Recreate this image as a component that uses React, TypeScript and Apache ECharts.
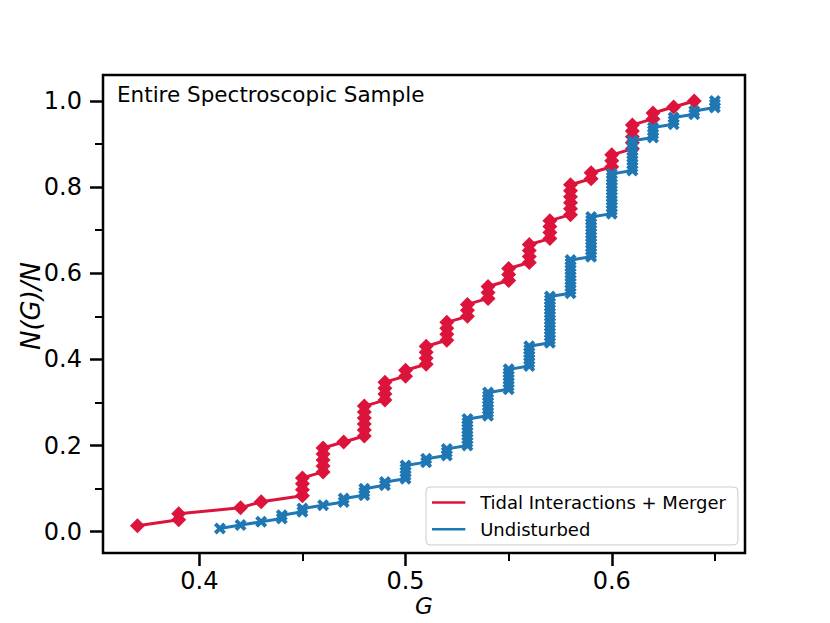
import React, { useEffect, useRef } from "react";
import * as echarts from "echarts";

// Distinct G values and number of galaxies at each value
const G_RED = [0.37, 0.39, 0.42, 0.43, 0.45, 0.46, 0.47, 0.48, 0.49, 0.5, 0.51, 0.52, 0.53, 0.54, 0.55, 0.56, 0.57, 0.58, 0.59, 0.6, 0.61, 0.62, 0.63, 0.64];
const COUNT_RED = [1, 2, 1, 1, 4, 5, 1, 6, 4, 2, 4, 4, 3, 3, 3, 4, 4, 6, 2, 3, 5, 2, 1, 1];

const G_BLUE = [0.41, 0.42, 0.43, 0.44, 0.45, 0.46, 0.47, 0.48, 0.49, 0.5, 0.51, 0.52, 0.53, 0.54, 0.55, 0.56, 0.57, 0.58, 0.59, 0.6, 0.61, 0.62, 0.63, 0.64, 0.65];
const COUNT_BLUE = [1, 1, 1, 2, 2, 1, 2, 3, 2, 5, 2, 3, 9, 8, 7, 7, 15, 11, 13, 13, 10, 4, 3, 2, 3];

const SERIES_NAMES = ["Tidal Interactions + Merger", "Undisturbed"];
const X_MAJOR = [0.4, 0.5, 0.6];
const X_MINOR = [0.45, 0.55, 0.65];
const Y_MAJOR = [0.0, 0.2, 0.4, 0.6, 0.8, 1.0];
const Y_MINOR = [0.1, 0.3, 0.5, 0.7, 0.9];
const ANNOTATION = "Entire Spectroscopic Sample";
const X_TITLE = "G";
const Y_TITLE = "N(G)/N";

function cumulative(gs: number[], counts: number[]): number[][] {
  const total = counts.reduce((a, b) => a + b, 0);
  const pts: number[][] = [];
  let c = 0;
  gs.forEach((g, i) => {
    for (let k = 0; k < counts[i]; k++) {
      c += 1;
      pts.push([g, c / total]);
    }
  });
  return pts;
}

const FONT = "DejaVu Sans";
const X_SYMBOL = "path://M2.3,0 L5,2.7 L7.7,0 L10,2.3 L7.3,5 L10,7.7 L7.7,10 L5,7.3 L2.3,10 L0,7.7 L2.7,5 L0,2.3 Z";

export default function App() {
  const ref = useRef<HTMLDivElement>(null);
  useEffect(() => {
    document.body.style.margin = "0";
    const chart = echarts.init(ref.current!, null, { renderer: "svg" });
    const xMin = 0.3533, xMax = 0.6646, yMin = -0.0494, yMax = 1.0603;
    const tickStyle = { color: "#000", width: 2.5 };
    const minorStyle = { color: "#000", width: 2 };
    chart.setOption({
      animation: false,
      backgroundColor: "#fff",
      grid: { left: 103, top: 75, right: 85, bottom: 70, show: true, borderColor: "#000", borderWidth: 2.5, backgroundColor: "transparent", containLabel: false, outerBoundsMode: "none" },
      xAxis: [
        {
          type: "value", min: xMin, max: xMax, position: "bottom",
          axisLine: { show: false, onZero: false },
          axisTick: { show: true, inside: false, length: 13, lineStyle: tickStyle, customValues: X_MAJOR },
          axisLabel: { customValues: X_MAJOR, formatter: (v: number) => v.toFixed(1), fontSize: 24, lineHeight: 20, color: "#000", fontFamily: FONT, margin: 18 },
          splitLine: { show: false },
        },
        {
          type: "value", min: xMin, max: xMax, position: "bottom",
          axisLine: { show: false, onZero: false },
          axisTick: { show: true, inside: false, length: 8, lineStyle: minorStyle, customValues: X_MINOR },
          axisLabel: { show: false },
          splitLine: { show: false },
        },
      ],
      yAxis: [
        {
          type: "value", min: yMin, max: yMax, position: "left",
          axisLine: { show: false, onZero: false },
          axisTick: { show: true, inside: false, length: 13, lineStyle: tickStyle, customValues: Y_MAJOR },
          axisLabel: { customValues: Y_MAJOR, formatter: (v: number) => v.toFixed(1), fontSize: 24, color: "#000", fontFamily: FONT, margin: 21 },
          splitLine: { show: false },
        },
        {
          type: "value", min: yMin, max: yMax, position: "left",
          axisLine: { show: false, onZero: false },
          axisTick: { show: true, inside: false, length: 8, lineStyle: minorStyle, customValues: Y_MINOR },
          axisLabel: { show: false },
          splitLine: { show: false },
        },
      ],
      legend: {
        orient: "vertical", left: 426, top: 487,
        padding: [4.6, 12, 4.6, 6],
        itemWidth: 39, itemHeight: 2.5, itemGap: 4.7,
        icon: "path://M0,0H40V3H0Z",
        backgroundColor: "rgba(255,255,255,0.8)", borderColor: "#cccccc", borderWidth: 1, borderRadius: 4,
        textStyle: { fontSize: 18, fontFamily: FONT, color: "#000", lineHeight: 22, padding: [0, 0, 0, 7] },
        data: SERIES_NAMES,
      },
      graphic: [
        {
          type: "text", left: 117, top: 83,
          style: { text: ANNOTATION, fontSize: 21.5, fontFamily: FONT, fill: "#000" },
        },
        {
          type: "text", x: 424, y: 606,
          style: { text: X_TITLE, fontSize: 23, fontStyle: "italic", fontFamily: FONT, fill: "#000", align: "center", verticalAlign: "middle" },
        },
        {
          type: "text", x: 31, y: 306, rotation: Math.PI / 2,
          style: { text: Y_TITLE, fontSize: 26, fontStyle: "italic", fontFamily: FONT, fill: "#000", align: "center", verticalAlign: "middle" },
        },
      ],
      series: [
        {
          name: SERIES_NAMES[0], type: "line", xAxisIndex: 0, yAxisIndex: 0,
          data: cumulative(G_RED, COUNT_RED),
          symbol: "diamond", symbolSize: 15, showSymbol: true, showAllSymbol: true,
          lineStyle: { color: "#DC143C", width: 3 }, itemStyle: { color: "#DC143C" },
          emphasis: { disabled: true }, silent: true, z: 2,
        },
        {
          name: SERIES_NAMES[1], type: "line", xAxisIndex: 0, yAxisIndex: 0,
          data: cumulative(G_BLUE, COUNT_BLUE),
          symbol: X_SYMBOL, symbolSize: 12, showSymbol: true, showAllSymbol: true,
          lineStyle: { color: "#1f77b4", width: 3 }, itemStyle: { color: "#1f77b4" },
          emphasis: { disabled: true }, silent: true, z: 3,
        },
      ],
    });
    return () => chart.dispose();
  }, []);
  return <div ref={ref} style={{ width: 830, height: 623 }} />;
}
